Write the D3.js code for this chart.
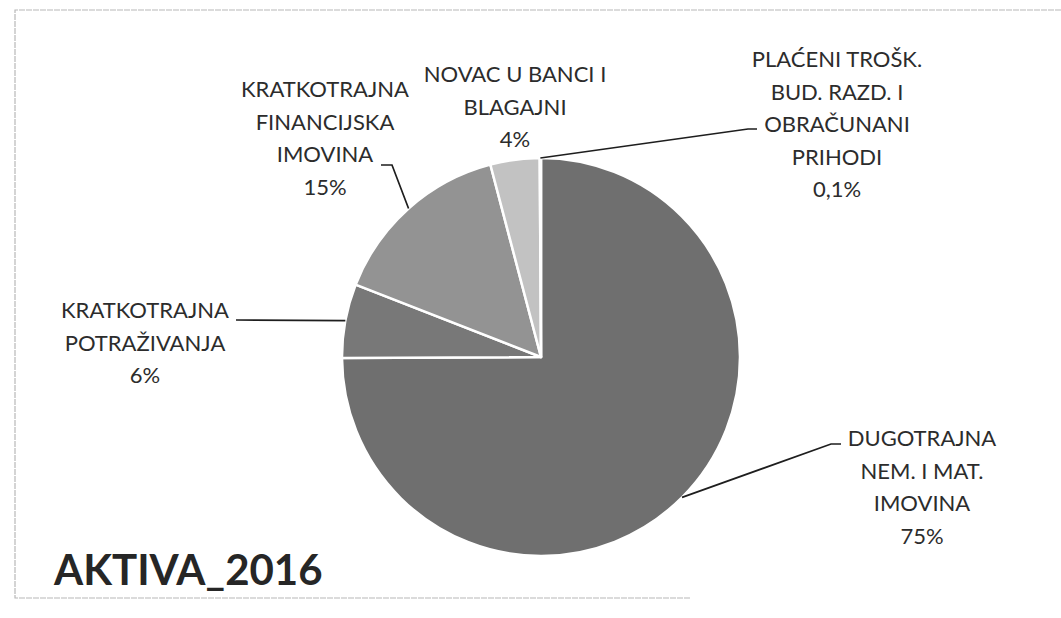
<html>
<meta charset="utf-8" />
<head>
<title>AKTIVA_2016</title>
<style>
body {
  margin: 0;
  background: #fff;
}

svg text {
  font-family: Lato, "Open Sans", sans-serif;
  fill: #2c2c2c;
}
</style>
<script src="https://cdn.jsdelivr.net/npm/d3@7/dist/d3.min.js" charset="utf-8"></script>
</head>

<body>
<svg class="chart"></svg>

<script>
var chartWidth = 1061;
var chartHeight = 618;

/********
 * Data *
 ********/

// slices, clockwise from 12 o'clock
var categories = [
  ["DUGOTRAJNA", "NEM. I MAT.", "IMOVINA"],
  ["KRATKOTRAJNA", "POTRAŽIVANJA"],
  ["KRATKOTRAJNA", "FINANCIJSKA", "IMOVINA"],
  ["NOVAC U BANCI I", "BLAGAJNI"],
  ["PLAĆENI TROŠK.", "BUD. RAZD. I", "OBRAČUNANI", "PRIHODI"]
];
var values = [75, 6, 15, 4, 0.1];
var sliceGrays = ["#6f6f6f", "#787878", "#939393", "#c2c2c2", "#8a8a8a"];
var title = "AKTIVA_2016";

/**********
 * Layout *
 **********/

var cx = 541, cy = 357, radius = 199;
var lineHeight = 32.5;

// label block: centre x, first baseline, leader elbow points (null = no leader)
var labelPos = [
  { x: 922, y: 446, leader: [[831, 444], [841, 444]] },
  { x: 145, y: 318, leader: [[236, 320]] },
  { x: 325, y: 97,  leader: [[392, 165], [381, 165]] },
  { x: 515, y: 82,  leader: null },
  { x: 837, y: 67,  leader: [[748, 129], [757, 129]] }
];

var locale = d3.formatLocale({ decimal: ",", thousands: ".", grouping: [3], currency: ["", " kn"] });
var fmt = locale.format("~g");

/**************
 * Make Chart *
 **************/

function makeChart(){

  var svg = d3.select(".chart")
      .attr("width", chartWidth)
      .attr("height", chartHeight);

  // scanned frame
  svg.append("path")
      .attr("d", "M" + chartWidth + ",10H15V598H" + 690)
      .attr("fill", "none")
      .attr("stroke", "#b8b8b8")
      .attr("stroke-width", 1.2)
      .attr("stroke-dasharray", "6,1");

  var pie = d3.pie()
      .sort(null)
      .value(function(d){ return d; });

  var arcs = pie(values);

  var arc = d3.arc()
      .innerRadius(0)
      .outerRadius(radius);

  // point on the rim at slice middle
  var rim = d3.arc()
      .innerRadius(radius)
      .outerRadius(radius);

  var g = svg.append("g")
      .attr("transform", "translate(" + cx + "," + cy + ")");

  g.selectAll("path.slice")
      .data(arcs)
      .enter().append("path")
      .attr("class", "slice")
      .attr("d", arc)
      .attr("fill", function(d, i){ return sliceGrays[i]; })
      .attr("stroke", "#fff")
      .attr("stroke-width", 2.5)
      .attr("stroke-linejoin", "round");

  // leader lines
  var line = d3.line();
  arcs.forEach(function(d, i){
    var lp = labelPos[i];
    if (!lp.leader) return;
    var c = rim.centroid(d);
    var pts = [[cx + c[0], cy + c[1]]].concat(lp.leader);
    svg.append("path")
        .attr("d", line(pts))
        .attr("fill", "none")
        .attr("stroke", "#1e1e1e")
        .attr("stroke-width", 1.7);
  });

  // labels
  categories.forEach(function(lines, i){
    var lp = labelPos[i];
    var rows = lines.concat([fmt(values[i]) + "%"]);
    var t = svg.append("text")
        .attr("text-anchor", "middle")
        .attr("font-size", "22px");
    t.selectAll("tspan")
        .data(rows)
        .enter().append("tspan")
        .attr("x", lp.x)
        .attr("y", function(d, j){ return lp.y + j * lineHeight; })
        .text(function(d){ return d; });
  });

  svg.append("text")
      .attr("x", 54)
      .attr("y", 585)
      .attr("font-size", "42px")
      .attr("font-weight", "bold")
      .style("fill", "#262626")
      .text(title);
}

makeChart();

</script>
</body>
</html>
